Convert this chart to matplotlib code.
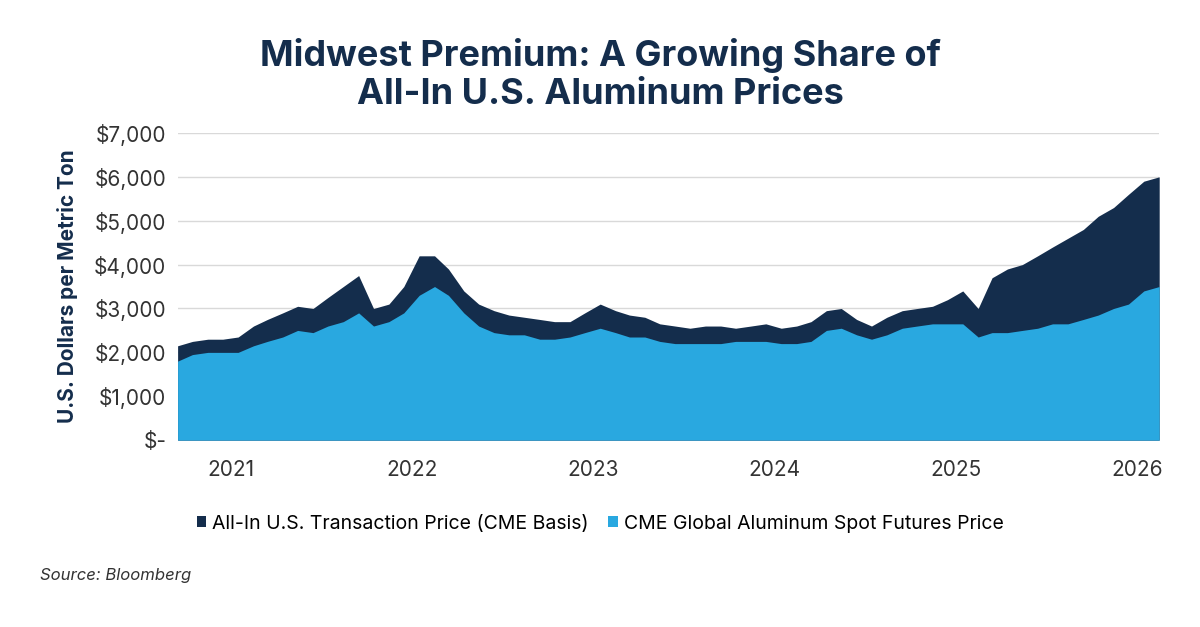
import matplotlib
matplotlib.use("Agg")
import matplotlib.pyplot as plt
import matplotlib.dates as mdates
import pandas as pd
import numpy as np

dates = pd.date_range("2020-09-01", "2026-02-01", freq="MS") + pd.Timedelta(days=14)
all_in = [2150,2250,2300,2300,2350,2600,2750,2900,3050,3000,3250,3500,3750,3000,3100,3500,
          4200,4200,3900,3400,3100,2950,2850,2800,2750,2700,2700,2900,
          3100,2950,2850,2800,2650,2600,2550,2600,2600,2550,2600,2650,
          2550,2600,2700,2950,3000,2750,2600,2800,2950,3000,3050,3200,
          3400,3000,3700,3900,4000,4200,4400,4600,4800,5100,5300,5600,5900,6000]
spot = [1800,1950,2000,2000,2000,2150,2250,2350,2500,2450,2600,2700,2900,2600,2700,2900,
        3300,3500,3300,2900,2600,2450,2400,2400,2300,2300,2350,2450,
        2550,2450,2350,2350,2250,2200,2200,2200,2200,2250,2250,2250,
        2200,2200,2250,2500,2550,2400,2300,2400,2550,2600,2650,2650,
        2650,2350,2450,2450,2500,2550,2650,2650,2750,2850,3000,3100,3400,3500]
n = min(len(dates), len(all_in), len(spot))
dates, all_in, spot = dates[:n], all_in[:n], spot[:n]

navy = "#142d4c"; blue = "#29a8e0"
plt.rcParams['font.family'] = ['Inter', 'DejaVu Sans']
fig = plt.figure(figsize=(12, 6.27), dpi=100)
ax = fig.add_axes([0.148, 0.298, 0.818, 0.49])
ax.fill_between(dates, 0, all_in, color=navy, lw=0, label="All-In U.S. Transaction Price (CME Basis)")
ax.fill_between(dates, 0, spot, color=blue, lw=0, label="CME Global Aluminum Spot Futures Price")
ax.set_ylim(0, 7000)
ax.set_xlim(dates[0], dates[-1])
ax.set_yticks(range(0, 7001, 1000))
ax.set_yticklabels(["$-"] + [f"${v:,}" for v in range(1000, 7001, 1000)], fontsize=15, color="#333333")
ax.xaxis.set_major_locator(mdates.YearLocator())
ax.xaxis.set_major_formatter(mdates.DateFormatter("%Y"))
ax.tick_params(axis='x', labelsize=15, colors="#333333", length=0, pad=14)
ax.tick_params(axis='y', length=0, pad=8)
ax.grid(axis='y', color="#d9d9d9", lw=1)
ax.set_axisbelow(True)
for s in ax.spines.values():
    s.set_visible(False)
ax.set_ylabel("U.S. Dollars per Metric Ton", fontsize=15, fontweight='bold', color=navy, labelpad=12)
fig.text(0.5, 0.94, "Midwest Premium: A Growing Share of\nAll-In U.S. Aluminum Prices", ha='center', va='top',
         fontsize=26, fontweight='bold', color=navy, linespacing=1.2)
fig.legend(loc='center', bbox_to_anchor=(0.5, 0.165), ncol=2, frameon=False, fontsize=14,
           handlelength=0.5, handleheight=0.5, handletextpad=0.3, columnspacing=1.0)
fig.text(0.033, 0.075, "Source: Bloomberg", fontsize=12, style='italic', color="#333333")
fig.savefig("out.png", dpi=100)
